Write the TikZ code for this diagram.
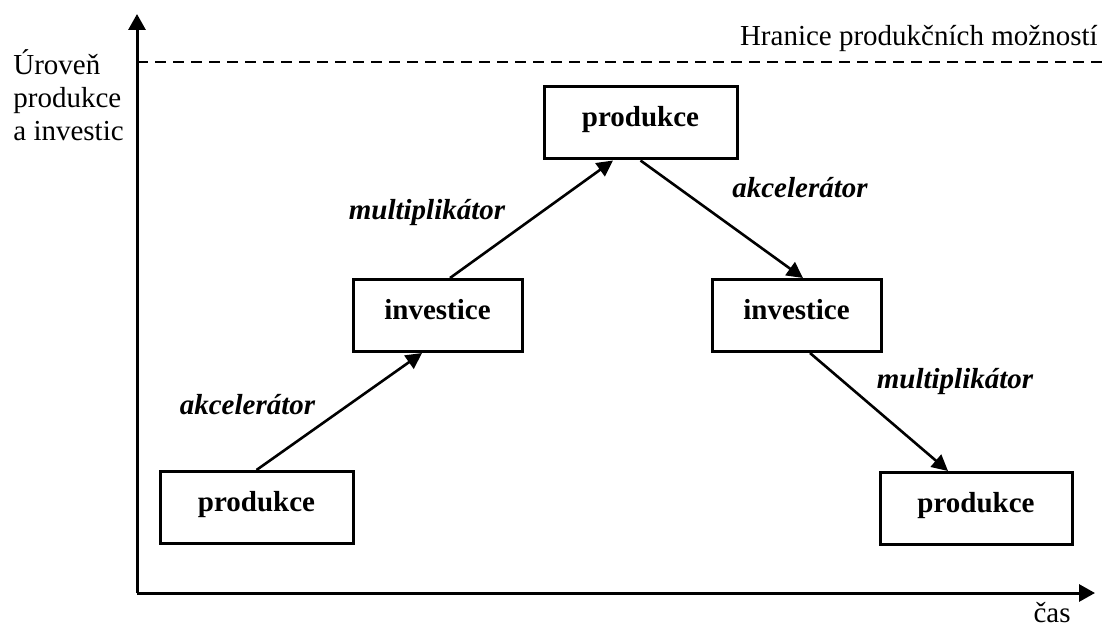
\documentclass[tikz,border=0pt]{standalone}
\usepackage{fontspec}
\setmainfont{Liberation Serif}
\usetikzlibrary{arrows.meta}
\tikzstyle{box}=[draw, rectangle, line width=1.5pt, minimum height=36pt, text height=0.7em, text depth=0.45em, font=\bfseries]
\tikzstyle{lbl}=[draw=none, inner sep=0pt, font=\bfseries\itshape]
\tikzstyle{txt}=[draw=none, inner sep=0pt]
\tikzstyle{axis}=[line width=1.5pt, -{Triangle[length=8pt,width=8.5pt]}]
\begin{document}
\fontsize{14.5}{17}\selectfont
\begin{tikzpicture}[x=0.5pt, y=-0.5pt, >={Triangle[length=8pt,width=8pt]}]
\useasboundingbox (0,0) rectangle (1106,630);
\coordinate (O) at (137,593);
\coordinate (ytop) at (137,14);
\coordinate (xend) at (1095,593);
\draw[axis] (O) -- (ytop);
\draw[axis] (O) -- (xend);
\coordinate (hl) at (137,62);
\coordinate (hr) at (1106,62);
\draw[line width=1.2pt, dash pattern=on 5.5pt off 3.5pt] (hl) -- (hr);
\node[txt, anchor=base east] (hranice) at (1098,46) {Hranice produkčních možností};
\foreach \n/\t/\y in {1/Úroveň/75, 2/produkce/108, 3/a investic/141}
  \node[txt, anchor=base west] (osa\n) at (13,\y) {\t};
\node[txt, anchor=base] (cas) at (1052,622) {čas};
\node[box, minimum width=96.5pt] (p1) at (256.5,507.5) {produkce};
\node[box, minimum width=84.5pt] (i1) at (437.5,315.5) {investice};
\node[box, minimum width=96.5pt] (p2) at (640.5,123) {produkce};
\node[box, minimum width=84.5pt] (i2) at (796.5,315.5) {investice};
\node[box, minimum width=96pt] (p3) at (976,508.5) {produkce};
\draw[->, line width=1.3pt] (p1.north) -- ([xshift=-7.75pt]i1.south);
\draw[->, line width=1.3pt] ([xshift=6.25pt]i1.north) -- ([xshift=-13.75pt]p2.south);
\draw[->, line width=1.3pt] (p2.south) -- ([xshift=3.25pt]i2.north);
\draw[->, line width=1.3pt] ([xshift=6.75pt]i2.south) -- ([xshift=-14pt]p3.north);
\node[lbl] (akc1) at (247.5,405) {akcelerátor};
\node[lbl] (mul1) at (427,213) {multiplikátor};
\node[lbl] (akc2) at (800,188) {akcelerátor};
\node[lbl] (mul2) at (955,382) {multiplikátor};
\end{tikzpicture}
\end{document}
